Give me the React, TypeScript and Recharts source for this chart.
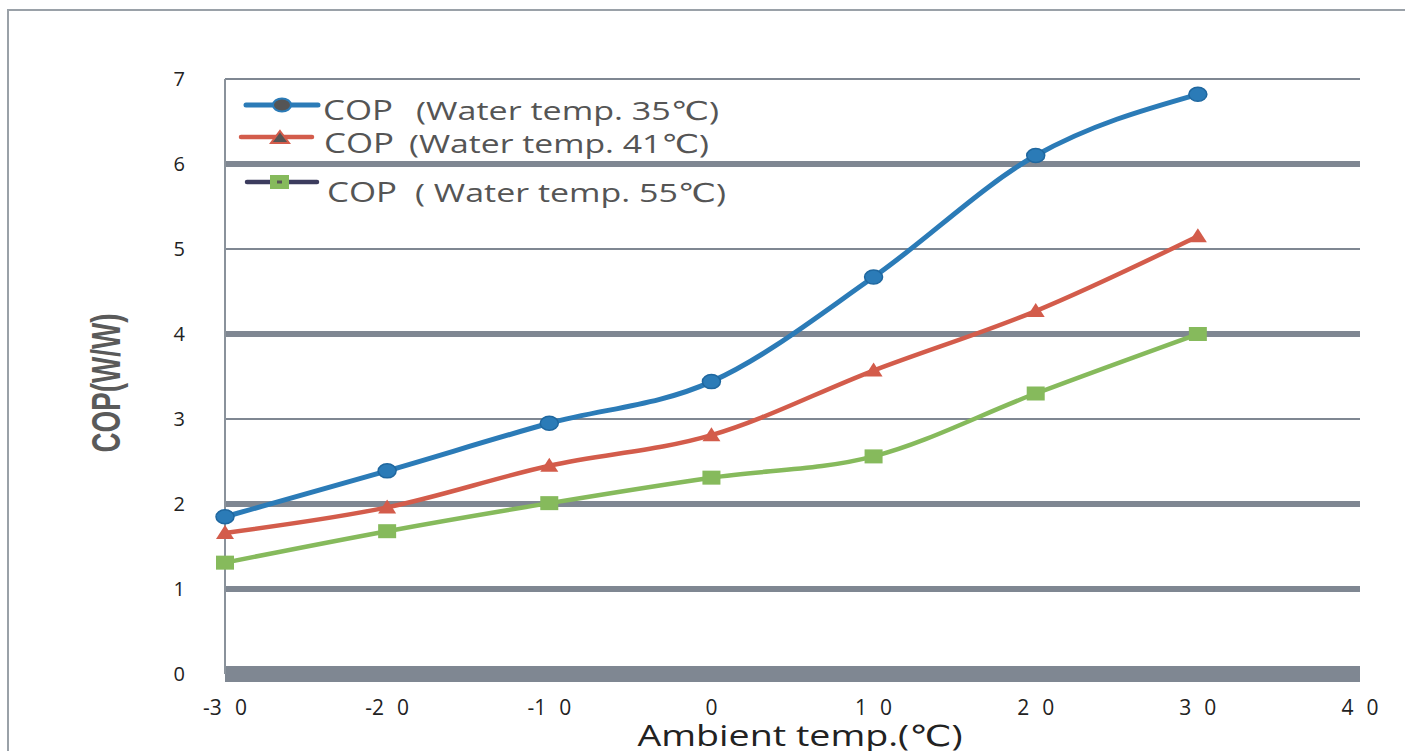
import React from "react";
import { LineChart, Line, XAxis, YAxis, CartesianGrid } from "recharts";

// ---- data ----
const temps = [-30, -20, -10, 0, 10, 20, 30];
const cop35 = [1.85, 2.39, 2.95, 3.44, 4.67, 6.1, 6.82];
const cop41 = [1.66, 1.96, 2.45, 2.81, 3.57, 4.27, 5.15];
const cop55 = [1.31, 1.68, 2.01, 2.31, 2.56, 3.3, 4.0];
const xTicks = [-30, -20, -10, 0, 10, 20, 30, 40];
const yTicks = [0, 1, 2, 3, 4, 5, 6, 7];
const seriesLabels = ["(Water temp. 35℃)", "(Water temp. 41℃)", "( Water temp. 55℃)"];
const seriesPrefix = "COP";
const xTitle = "Ambient temp.(℃)";
const yTitle = "COP(W/W)";

const data = temps.map((t, i) => ({ t, a: cop35[i], b: cop41[i], c: cop55[i] }));

const BLUE = "#2b7bb7";
const RED = "#d35c4b";
const GREEN = "#86ba5c";
const GRID = "#7f8792";
const TEXT = "#555555";
const GRID_W = [16, 6, 6, 2, 6, 2, 6, 2];
const FONT = "'Open Sans', 'DejaVu Sans', sans-serif";

const BlueDot = (p: any) => (
  <ellipse cx={p.cx} cy={p.cy} rx={9} ry={7} fill={BLUE} stroke="#1f679f" strokeWidth={1.5} />
);
const RedDot = (p: any) => (
  <path d={`M${p.cx},${p.cy - 8} L${p.cx + 9},${p.cy + 6} L${p.cx - 9},${p.cy + 6} Z`} fill={RED} />
);
const GreenDot = (p: any) => (
  <rect x={p.cx - 9} y={p.cy - 7} width={18} height={14} fill={GREEN} />
);

const XTick = (p: any) => {
  const s = String(p.payload.value);
  if (s.length === 1) {
    return (
      <text x={p.x} y={715} textAnchor="middle" fontSize={21} fill="#222" fontFamily={FONT}>{s}</text>
    );
  }
  const head = s.slice(0, -1);
  const last = s.slice(-1);
  return (
    <text x={p.x} y={715} textAnchor="middle" fontSize={21} fill="#222" fontFamily={FONT}>
      <tspan>{head}</tspan>
      <tspan dx={13}>{last}</tspan>
    </text>
  );
};

const YTick = (p: any) => (
  <text x={185} y={p.y + 7} textAnchor="end" fontSize={20} fill="#222" fontFamily={FONT}>
    {p.payload.value}
  </text>
);

const gridLine = (props: any) => (
  <line
    key={props.key}
    x1={props.x1}
    x2={props.x2}
    y1={props.y1}
    y2={props.y2}
    stroke={GRID}
    strokeWidth={GRID_W[props.index] ?? 2}
  />
);

const SA = "spacingAndGlyphs";

const Legend = () => (
  <svg width={1405} height={751} style={{ position: "absolute", left: 0, top: 0, pointerEvents: "none" }}>
    {/* entry 1 */}
    <line x1={246} x2={318} y1={105} y2={105} stroke={BLUE} strokeWidth={5} strokeLinecap="round" />
    <ellipse cx={282} cy={105} rx={9} ry={6.5} fill="#555" stroke={BLUE} strokeWidth={2} />
    <text x={323} y={120} fontSize={28} fill={TEXT} fontFamily={FONT} textLength={70} lengthAdjust={SA}>{seriesPrefix}</text>
    <text x={416} y={120} fontSize={26} fill={TEXT} fontFamily={FONT} textLength={303} lengthAdjust={SA}>{seriesLabels[0]}</text>
    {/* entry 2 */}
    <line x1={241} x2={312} y1={137} y2={137} stroke={RED} strokeWidth={4.5} strokeLinecap="round" />
    <path d="M280,131 L289,143 L271,143 Z" fill="#555" stroke={RED} strokeWidth={2} />
    <text x={324} y={153} fontSize={28} fill={TEXT} fontFamily={FONT} textLength={70} lengthAdjust={SA}>{seriesPrefix}</text>
    <text x={409} y={153} fontSize={26} fill={TEXT} fontFamily={FONT} textLength={300} lengthAdjust={SA}>{seriesLabels[1]}</text>
    {/* entry 3 */}
    <line x1={247} x2={317} y1={182} y2={182} stroke="#3c3c5e" strokeWidth={4.5} strokeLinecap="round" />
    <rect x={270} y={175} width={19} height={14} fill={GREEN} />
    <rect x={277} y={180.5} width={5} height={3} fill="#555" />
    <text x={327} y={202} fontSize={28} fill={TEXT} fontFamily={FONT} textLength={70} lengthAdjust={SA}>{seriesPrefix}</text>
    <text x={415} y={202} fontSize={26} fill={TEXT} fontFamily={FONT} textLength={311} lengthAdjust={SA}>{seriesLabels[2]}</text>
  </svg>
);

export default function App() {
  return (
    <div
      style={{
        position: "fixed",
        left: 0,
        top: 0,
        width: 1405,
        height: 751,
        overflow: "hidden",
        background: "#fff",
      }}
    >
      <div
        style={{
          position: "absolute",
          left: 7,
          top: 9,
          width: 1500,
          height: 900,
          border: "2px solid #9aa1a8",
        }}
      />
      <div style={{ position: "absolute", left: 0, top: 0 }}>
        <LineChart
          width={1405}
          height={751}
          data={data}
          margin={{ top: 79, right: 45, left: 165, bottom: 0 }}
        >
          <CartesianGrid horizontal={gridLine} vertical={false} />
          <XAxis
            dataKey="t"
            type="number"
            domain={[-30, 40]}
            ticks={xTicks}
            axisLine={false}
            tickLine={false}
            height={77}
            tick={<XTick />}
            interval={0}
          />
          <YAxis
            type="number"
            domain={[0, 7]}
            ticks={yTicks}
            width={60}
            axisLine={{ stroke: "#8a929b", strokeWidth: 2 }}
            tickLine={false}
            tick={<YTick />}
            interval={0}
          />
          <Line
            type="monotone"
            dataKey="c"
            stroke={GREEN}
            strokeWidth={4.5}
            dot={<GreenDot />}
            activeDot={false}
            isAnimationActive={false}
          />
          <Line
            type="monotone"
            dataKey="b"
            stroke={RED}
            strokeWidth={4.5}
            dot={<RedDot />}
            activeDot={false}
            isAnimationActive={false}
          />
          <Line
            type="monotone"
            dataKey="a"
            stroke={BLUE}
            strokeWidth={5}
            dot={<BlueDot />}
            activeDot={false}
            isAnimationActive={false}
          />
        </LineChart>
      </div>
      <Legend />
      <svg width={1405} height={751} style={{ position: "absolute", left: 0, top: 0, pointerEvents: "none" }}>
        <text
          x={800}
          y={746}
          textAnchor="middle"
          fontSize={29}
          fill="#222"
          fontFamily={FONT}
          textLength={325}
          lengthAdjust={SA}
        >
          {xTitle}
        </text>
        <text
          x={0}
          y={0}
          transform="translate(120,383) rotate(-90)"
          textAnchor="middle"
          fontSize={40}
          fontWeight="bold"
          fill="#5a5a5a"
          fontFamily="'Liberation Sans Narrow', 'Liberation Sans', sans-serif"
          textLength={139}
          lengthAdjust={SA}
        >
          {yTitle}
        </text>
      </svg>
    </div>
  );
}
